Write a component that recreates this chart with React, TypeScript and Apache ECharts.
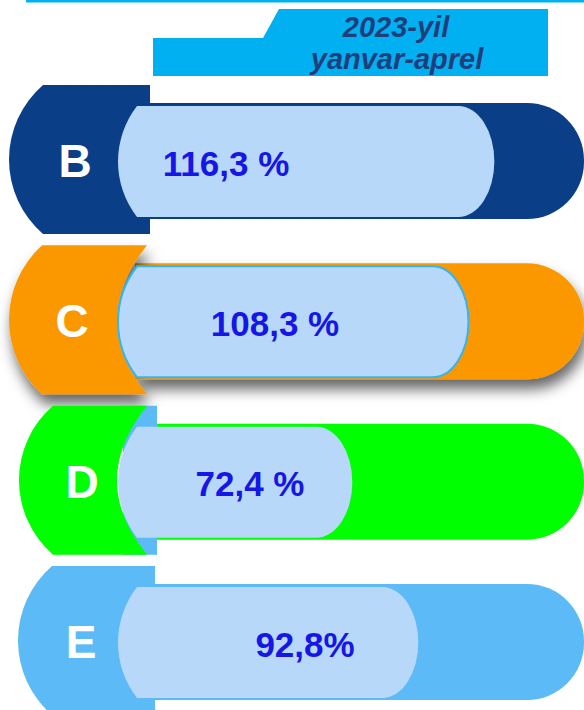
import React, { useEffect, useRef } from "react";
import * as echarts from "echarts";

// ---- data ----
const categories = ["B", "C", "D", "E"];
const values = [116.3, 108.3, 72.4, 92.8];
const valueLabels = ["116,3 %", "108,3 %", "72,4 %", "92,8%"];
const headerLines = ["2023-yil", "yanvar-aprel"];

// ---- styles / layout (not data) ----
const rowColors = ["#0A3F88", "#FB9800", "#00FF00", "#5CBAF6"];
const badgeLeft = [9, 9, 19, 18];
const badgeTopLeft = [43, 42, 53, 52];
const badgeRight = [150, 147, 147, 155];
const badgeConcave = [false, true, true, false];
const letterX = [75, 72, 82, 81];
const labelX = [226, 275, 250, 305];
const pillColor = "#B8D8F9";
const valueColor = "#1616E6";
const FONT = "'Liberation Sans', Arial, sans-serif";

export default function App() {
  const ref = useRef<HTMLDivElement>(null);
  useEffect(() => {
    if (!ref.current) return;
    const chart = echarts.init(ref.current, null, { renderer: "svg" });

    const renderItem = (params: any, api: any) => {
      const i = params.dataIndex;
      const v = api.value(0);
      const end = api.coord([v, i]);
      const x0 = api.coord([0, i])[0];
      const c = end[1];
      const xe = end[0];
      const cs = params.coordSys;
      const right = cs.x + cs.width;
      const color = rowColors[i];
      const shadow =
        i === 1
          ? { shadowBlur: 14, shadowOffsetX: 3, shadowOffsetY: 10, shadowColor: "rgba(0,0,0,0.6)" }
          : {};

      // badge
      const bt = c - 75;
      const bb = c + 74;
      const xl = badgeLeft[i];
      const xt = badgeTopLeft[i];
      const xr = badgeRight[i];
      const s = xt - xl;
      const h = 74.5;
      const r = (h * h + s * s) / (2 * s);
      const rightEdge = badgeConcave[i]
        ? `Q ${xr - 60} ${c} ${xr} ${bb}`
        : `L ${xr} ${bb}`;
      const badgePath = `M ${xt} ${bt} L ${xr} ${bt} ${rightEdge} L ${xt} ${bb} A ${r} ${r} 0 0 1 ${xt} ${bt} Z`;

      // light pill (the bar)
      const pt = c - 54;
      const pb = c + 57;
      const ph = (pb - pt) / 2;
      const ls = 19;
      const lr = (ph * ph + ls * ls) / (2 * ls);
      const rx = 36;
      const pillPath = `M ${x0 + ls} ${pt} L ${xe - rx} ${pt} A ${rx} ${ph} 0 0 1 ${xe - rx} ${pb} L ${x0 + ls} ${pb} A ${lr} ${lr} 0 0 1 ${x0 + ls} ${pt} Z`;

      const children: any[] = [];
      children.push({
        type: "rect",
        shape: { x: xr - 12, y: c - 57, width: right - (xr - 12), height: 116, r: [0, 57, 57, 0] },
        style: { fill: color, ...shadow },
      });
      if (i === 2) {
        children.push({
          type: "rect",
          shape: { x: xr - 24, y: bt, width: 24 + 10, height: bb - bt },
          style: { fill: "#5CBAF6" },
        });
      }
      children.push({
        type: "path",
        shape: { pathData: badgePath },
        style: { fill: color, ...shadow },
      });
      children.push({
        type: "path",
        shape: { pathData: pillPath },
        style: {
          fill: pillColor,
          stroke: i === 1 ? "#33B5F0" : null,
          lineWidth: i === 1 ? 2 : 0,
        },
      });
      children.push({
        type: "text",
        x: labelX[i],
        y: c + 3,
        style: {
          text: valueLabels[i],
          fill: valueColor,
          fontSize: 35,
          fontWeight: "bold",
          fontFamily: FONT,
          align: "center",
          verticalAlign: "middle",
        },
      });
      children.push({
        type: "text",
        x: letterX[i],
        y: c + 1,
        style: {
          text: categories[i],
          fill: "#FFFFFF",
          fontSize: 46,
          fontWeight: "bold",
          fontFamily: FONT,
          align: "center",
          verticalAlign: "middle",
        },
      });
      return { type: "group", children };
    };

    chart.setOption({
      animation: false,
      grid: { left: 118, right: 0, top: 160, bottom: 69 },
      xAxis: { type: "value", min: 0, max: 144, show: false },
      yAxis: { type: "category", data: categories, inverse: true, boundaryGap: false, show: false },
      graphic: [
        {
          type: "rect",
          shape: { x: 26, y: 0, width: 558, height: 2.5 },
          style: { fill: "#00B0F0" },
        },
        {
          type: "polygon",
          shape: {
            points: [
              [153, 76],
              [153, 38],
              [263, 38],
              [279, 9],
              [548, 9],
              [548, 76],
            ],
          },
          style: { fill: "#00B0F0" },
        },
        {
          type: "text",
          x: 396,
          y: 27,
          style: {
            text: headerLines[0],
            fill: "#1F3E7C",
            font: `italic bold 29px ${FONT}`,
            align: "center",
            verticalAlign: "middle",
          },
        },
        {
          type: "text",
          x: 397,
          y: 59,
          style: {
            text: headerLines[1],
            fill: "#1F3E7C",
            font: `italic bold 29px ${FONT}`,
            align: "center",
            verticalAlign: "middle",
          },
        },
      ],
      series: [
        {
          type: "custom",
          clip: false,
          renderItem,
          encode: { x: 0, y: 1 },
          data: values.map((v, i) => [v, i]),
        },
      ],
    });
    return () => chart.dispose();
  }, []);

  return (
    <div
      ref={ref}
      style={{ position: "fixed", left: 0, top: 0, width: 584, height: 710, background: "#FFFFFF" }}
    />
  );
}
